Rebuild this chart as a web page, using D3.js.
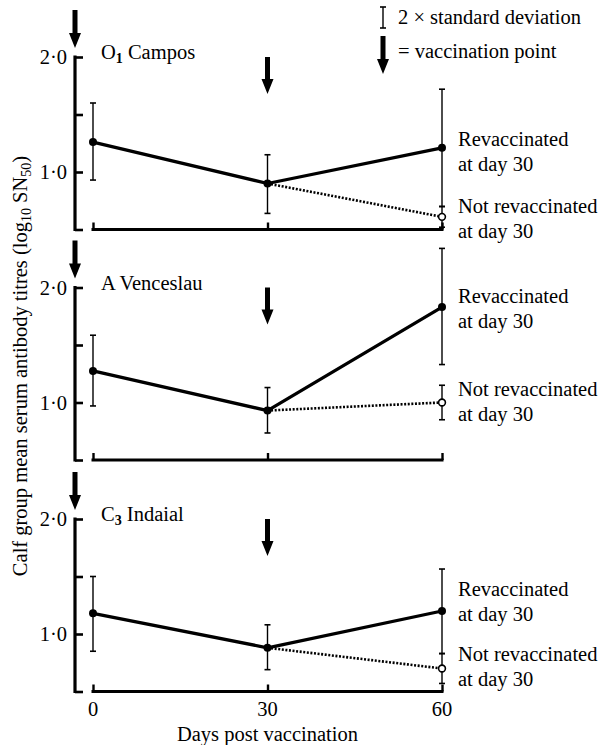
<!DOCTYPE html>
<html>
<head>
<meta charset="utf-8">
<script src="https://cdn.jsdelivr.net/npm/d3@7"></script>
<style>
  body { margin: 0; background: #fff; }
  text { font-family: "Liberation Serif", "DejaVu Serif", serif; fill: #000; }
</style>
</head>
<body>
<div class="chart"></div>
<script>
// data
const days = [0, 30, 60];
const vaccinationDays = [0, 30];
const strainNames = [["O", "1", " Campos"], ["A Venceslau", "", ""], ["C", "3", " Indaial"]];
const revacMean = [[1.26, 0.90, 1.21], [1.275, 0.93, 1.83], [1.18, 0.88, 1.20]];
const revacLow = [[0.93, 0.64, 0.70], [0.97, 0.735, 1.33], [0.85, 0.69, 0.83]];
const revacHigh = [[1.60, 1.15, 1.72], [1.585, 1.13, 2.34], [1.50, 1.08, 1.565]];
const notRevacMean = [0.61, 1.00, 0.70];
const notRevacLow = [0.52, 0.85, 0.57];
const notRevacHigh = [0.70, 1.15, 0.83];
const yTicks = [0.5, 1.0, 1.5, 2.0];
const yTickLabels = ["", "1·0", "", "2·0"];
const xTickLabels = ["0", "30", "60"];

// layout
const width = 603, height = 745;
const axisX = 75;
const panelTops = [57, 287.5, 519];
const panelHeight = 172.5;
const revacLabelY = [146, 303, 596];
const notRevacLabelY = [213, 396, 661];
const fontSize = 20.5;
const subSize = 14;

const svg = d3.select(".chart").append("svg")
  .attr("width", width)
  .attr("height", height);

const xScale = d3.scaleLinear().domain([0, 60]).range([93, 442]);

const drawArrow = (g, x, y0, y1) => {
  const head = 15, shaft = 2.5, hw = 6;
  g.append("path")
    .attr("d", `M${x - shaft},${y0} L${x + shaft},${y0} L${x + shaft},${y1 - head} L${x + hw},${y1 - head} L${x},${y1} L${x - hw},${y1 - head} L${x - shaft},${y1 - head} Z`)
    .attr("fill", "#000");
}

panelTops.forEach((top, p) => {
  const yScale = d3.scaleLinear().domain([0.5, 2]).range([top + panelHeight, top]);
  const g = svg.append("g");

  // y axis, ticks pointing inwards
  const yAxis = d3.axisRight(yScale).tickValues(yTicks).tickSize(8).tickFormat("");
  g.append("g")
    .attr("transform", `translate(${axisX},0)`)
    .call(yAxis)
    .call(a => a.select(".domain").attr("d", `M0,${yScale(0.5) + 1.5}V${yScale(2) - 1.5}`).attr("stroke-width", 3.2))
    .call(a => a.selectAll(".tick line").attr("stroke-width", 2.6));

  g.selectAll(".ylab")
    .data(yTicks.filter((d, i) => yTickLabels[i]))
    .enter()
    .append("text")
    .attr("x", axisX - 8)
    .attr("y", d => yScale(d) + 7)
    .attr("text-anchor", "end")
    .attr("font-size", fontSize)
    .text(d => yTickLabels[yTicks.indexOf(d)]);

  // x axis, separate from y axis
  const xAxis = d3.axisTop(xScale).tickValues(days).tickSize(7).tickFormat("");
  g.append("g")
    .attr("transform", `translate(0,${yScale(0.5)})`)
    .call(xAxis)
    .call(a => a.select(".domain").attr("d", `M${xScale(0) - 1.5},0H${xScale(60) + 1.5}`).attr("stroke-width", 3))
    .call(a => a.selectAll(".tick line").attr("stroke-width", 2.4));

  if (p === panelTops.length - 1) {
    g.selectAll(".xlab")
      .data(days)
      .enter()
      .append("text")
      .attr("x", d => xScale(d))
      .attr("y", yScale(0.5) + 24)
      .attr("text-anchor", "middle")
      .attr("font-size", fontSize)
      .text((d, i) => xTickLabels[i]);
  }

  // strain name
  const name = g.append("text")
    .attr("x", xScale(0) + 8)
    .attr("y", top + 2)
    .attr("font-size", fontSize);
  name.append("tspan").text(strainNames[p][0]);
  if (strainNames[p][1]) {
    name.append("tspan").attr("font-size", subSize).attr("font-weight", "bold").attr("dy", 4).text(strainNames[p][1]);
    name.append("tspan").attr("dy", -4).text(strainNames[p][2]);
  }

  // vaccination arrows
  vaccinationDays.forEach(d => {
    if (d === 0) drawArrow(g, axisX, top - 47, top - 9);
    else drawArrow(g, xScale(d), top, top + 37);
  });

  // error bars
  const bars = days.map((d, i) => ({ x: d, lo: revacLow[p][i], hi: revacHigh[p][i] }));
  bars.push({ x: 60, lo: notRevacLow[p], hi: notRevacHigh[p] });
  bars.forEach(b => {
    g.append("line")
      .attr("x1", xScale(b.x)).attr("x2", xScale(b.x))
      .attr("y1", yScale(b.lo)).attr("y2", yScale(b.hi))
      .attr("stroke", "#000").attr("stroke-width", 1.4);
    [b.lo, b.hi].forEach(v => {
      g.append("line")
        .attr("x1", xScale(b.x) - 3).attr("x2", xScale(b.x) + 3)
        .attr("y1", yScale(v)).attr("y2", yScale(v))
        .attr("stroke", "#000").attr("stroke-width", 1.6);
    });
  });

  // not revaccinated, dotted from day 30
  const line = d3.line().x(d => xScale(d[0])).y(d => yScale(d[1]));
  g.append("path")
    .attr("d", line([[30, revacMean[p][1]], [60, notRevacMean[p]]]))
    .attr("fill", "none")
    .attr("stroke", "#000")
    .attr("stroke-width", 2.6)
    .attr("stroke-dasharray", "2,1.6");

  // revaccinated, solid
  g.append("path")
    .attr("d", line(days.map((d, i) => [d, revacMean[p][i]])))
    .attr("fill", "none")
    .attr("stroke", "#000")
    .attr("stroke-width", 3.3)
    .attr("stroke-linejoin", "round");

  g.selectAll(".pt")
    .data(days)
    .enter()
    .append("circle")
    .attr("cx", d => xScale(d))
    .attr("cy", (d, i) => yScale(revacMean[p][i]))
    .attr("r", 4)
    .attr("fill", "#000");

  g.append("circle")
    .attr("cx", xScale(60))
    .attr("cy", yScale(notRevacMean[p]))
    .attr("r", 3.4)
    .attr("fill", "#fff")
    .attr("stroke", "#000")
    .attr("stroke-width", 1.6);

  // right side labels
  const labelX = xScale(60) + 16;
  [["Revaccinated", revacLabelY[p]], ["Not revaccinated", notRevacLabelY[p]]].forEach(([t, y]) => {
    g.append("text").attr("x", labelX).attr("y", y).attr("font-size", fontSize).text(t);
    g.append("text").attr("x", labelX).attr("y", y + 25).attr("font-size", fontSize).text("at day 30");
  });
});

// legend
const legend = svg.append("g");
const lx = 383;
legend.append("line").attr("x1", lx).attr("x2", lx).attr("y1", 7).attr("y2", 28).attr("stroke", "#000").attr("stroke-width", 1.4);
[7, 28].forEach(y => legend.append("line").attr("x1", lx - 3).attr("x2", lx + 3).attr("y1", y).attr("y2", y).attr("stroke", "#000").attr("stroke-width", 1.6));
legend.append("text").attr("x", 398).attr("y", 24).attr("font-size", fontSize).text("2 × standard deviation");
drawArrow(legend, lx, 36, 74);
legend.append("text").attr("x", 398).attr("y", 58).attr("font-size", fontSize).text("= vaccination point");

// axis titles
svg.append("text")
  .attr("x", xScale(30))
  .attr("y", 741)
  .attr("text-anchor", "middle")
  .attr("font-size", fontSize)
  .text("Days post vaccination");

const yTitle = svg.append("text")
  .attr("transform", "translate(27,366) rotate(-90)")
  .attr("text-anchor", "middle")
  .attr("font-size", fontSize);
yTitle.append("tspan").text("Calf group mean serum antibody titres (log");
yTitle.append("tspan").attr("font-size", subSize).attr("dy", 4).text("10");
yTitle.append("tspan").attr("dy", -4).text(" SN");
yTitle.append("tspan").attr("font-size", subSize).attr("dy", 4).text("50");
yTitle.append("tspan").attr("dy", -4).text(")");
</script>
</body>
</html>
